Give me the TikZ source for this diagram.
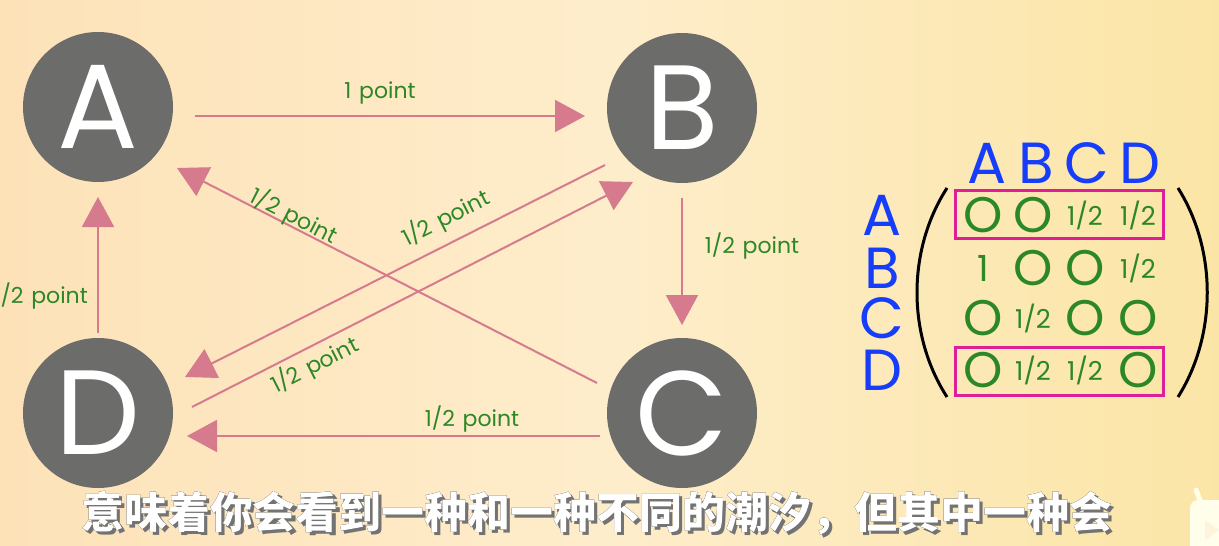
\documentclass[tikz,border=0pt]{standalone}
\usepackage{fontspec}
\usepackage{pdfrender}
\setmainfont{Poppins}
\newfontfamily\cjk{Noto Sans CJK SC}
\usetikzlibrary{arrows.meta,calc}
\definecolor{bgL}{RGB}{253,226,184}
\definecolor{bgM}{RGB}{254,237,203}
\definecolor{bgR}{RGB}{251,229,166}
\definecolor{circ}{RGB}{108,108,106}
\definecolor{arr}{RGB}{214,122,142}
\definecolor{lab}{RGB}{44,135,38}
\definecolor{mblue}{RGB}{22,62,250}
\definecolor{mbox}{RGB}{222,30,150}
\newcommand{\pt}{1/2\hspace{0.35em}point}
\newcommand{\subtext}{意味着你会看到一种和一种不同的潮汐，但其中一种会}
\tikzset{
  vertex/.style={circle,fill=circ,minimum size=150pt,inner sep=0pt,text=white,font=\fontsize{120}{120}\selectfont},
  conn/.style={draw=arr,line width=2pt,-{Triangle[length=30pt,width=32pt]}},
  lbl/.style={text=lab,font=\fontsize{22}{22}\selectfont,inner sep=0pt},
  hdr/.style={text=mblue,font=\fontsize{58}{58}\selectfont,inner sep=0pt},
  ent/.style={text=lab,font=\fontsize{26}{26}\selectfont,inner sep=0pt},
  zer/.style={text=lab,font=\fontsize{50}{50}\selectfont,inner sep=0pt},
  rowbox/.style={draw=mbox,line width=3pt},
  paren/.style={draw=black,line width=3pt},
  sub/.style={font=\cjk\bfseries\fontsize{43}{43}\selectfont,inner sep=0pt}
}
\begin{document}
\begin{tikzpicture}[x=1pt,y=-1pt]
\useasboundingbox (0,0) rectangle (1219,546);
\shade[left color=bgL,right color=bgR,middle color=bgM] (0,0) rectangle (1219,546);
% vertices
\node[vertex] (A) at (98,107) {A};
\node[vertex] (B) at (682,108) {B};
\node[vertex] (C) at (682,413) {C};
\node[vertex] (D) at (98,413) {D};
% connectors
\draw[conn] ($(A)+(97,9)$) -- ($(B)+(-97,8)$);
\draw[conn] ($(B)+(0,90)$) -- ($(C)+(0,-88)$);
\draw[conn] ($(C)+(-82,23)$) -- ($(D)+(89,23)$);
\draw[conn] ($(D)+(0,-80)$) -- ($(A)+(0,90)$);
\draw[conn] ($(C)+(-85,-30)$) -- ($(A)+(79,61)$);
\draw[conn] ($(B)+(-77,57)$) -- ($(D)+(87,-36)$);
\draw[conn] ($(D)+(94,-6)$) -- ($(B)+(-49,74)$);
% labels
\node[lbl] (lab) at (380,93) {1\hspace{0.35em}point};
\node[lbl] (lbc) at (752,246) {\pt};
\node[lbl] (lcd) at (472,419) {\pt};
\node[lbl,anchor=east] (lda) at (88,296) {\pt};
\node[lbl,rotate=-27] (lca) at (294,216) {\pt};
\node[lbl,rotate=27] (lbd) at (446,218) {\pt};
\node[lbl,rotate=27] (ldb) at (315,365) {\pt};
% matrix headers
\node[hdr] (hA) at (987,163) {A};
\node[hdr] (hB) at (1036,163) {B};
\node[hdr] (hC) at (1087,163) {C};
\node[hdr] (hD) at (1140,163) {D};
\node[hdr] (rA) at (882,215) {A};
\node[hdr] (rB) at (882,268) {B};
\node[hdr] (rC) at (882,318) {C};
\node[hdr] (rD) at (882,370) {D};
% parentheses
\draw[paren] (947,188) .. controls (907,250) and (907,335) .. (947,397);
\draw[paren] (1178,188) .. controls (1217,250) and (1217,335) .. (1178,397);
% boxes
\draw[rowbox] (955,190) rectangle (1163,238);
\draw[rowbox] (955,347) rectangle (1163,395);
% entries
\node[zer] (e11) at (983,215) {O};
\node[zer] (e12) at (1033,215) {O};
\node[ent] (e13) at (1085,215) {1/2};
\node[ent] (e14) at (1138,215) {1/2};
\node[ent,font=\fontsize{36}{36}\selectfont] (e21) at (983,268) {1};
\node[zer] (e22) at (1033,268) {O};
\node[zer] (e23) at (1085,268) {O};
\node[ent] (e24) at (1138,268) {1/2};
\node[zer] (e31) at (983,318) {O};
\node[ent] (e32) at (1033,318) {1/2};
\node[zer] (e33) at (1085,318) {O};
\node[zer] (e34) at (1138,318) {O};
\node[zer] (e41) at (983,370) {O};
\node[ent] (e42) at (1033,370) {1/2};
\node[ent] (e43) at (1085,370) {1/2};
\node[zer] (e44) at (1138,370) {O};
% subtitle: shadow, outline, fill
\node[sub,text=black!55] (subs) at (600,516) {\textpdfrender{TextRenderingMode=FillStroke,LineWidth=4}{\subtext}};
\node[sub,text=black] (subo) at (597,513) {\textpdfrender{TextRenderingMode=FillStroke,LineWidth=4}{\subtext}};
\node[sub,text=white] (subt) at (597,513) {\subtext};
% logo
\fill[white!92!yellow,rounded corners=8pt] (1190,500) rectangle (1240,560);
\draw[white!92!yellow,line width=5pt,line cap=round] (1200,500) -- (1196,490);
\fill[bgM!70!white] (1205,520) -- (1205,540) -- (1219,530) -- cycle;
\end{tikzpicture}
\end{document}
